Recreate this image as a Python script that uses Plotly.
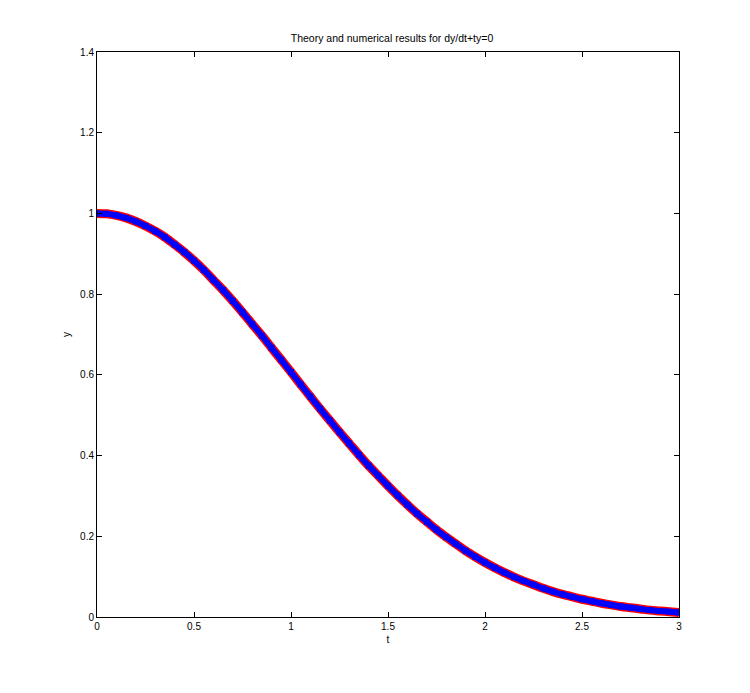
import plotly.graph_objects as go

t_values = [0.00, 0.05, 0.10, 0.15, 0.20, 0.25, 0.30, 0.35, 0.40, 0.45,
            0.50, 0.55, 0.60, 0.65, 0.70, 0.75, 0.80, 0.85, 0.90, 0.95,
            1.00, 1.05, 1.10, 1.15, 1.20, 1.25, 1.30, 1.35, 1.40, 1.45,
            1.50, 1.55, 1.60, 1.65, 1.70, 1.75, 1.80, 1.85, 1.90, 1.95,
            2.00, 2.05, 2.10, 2.15, 2.20, 2.25, 2.30, 2.35, 2.40, 2.45,
            2.50, 2.55, 2.60, 2.65, 2.70, 2.75, 2.80, 2.85, 2.90, 2.95, 3.00]

y_theory = [1.000, 0.999, 0.995, 0.989, 0.980, 0.969, 0.956, 0.941, 0.923, 0.904,
            0.883, 0.860, 0.835, 0.810, 0.783, 0.755, 0.726, 0.697, 0.667, 0.637,
            0.607, 0.576, 0.546, 0.516, 0.487, 0.458, 0.430, 0.402, 0.375, 0.350,
            0.325, 0.301, 0.278, 0.256, 0.236, 0.216, 0.198, 0.181, 0.164, 0.149,
            0.135, 0.122, 0.110, 0.099, 0.089, 0.080, 0.071, 0.063, 0.056, 0.050,
            0.044, 0.039, 0.034, 0.030, 0.026, 0.023, 0.020, 0.017, 0.015, 0.013, 0.011]

y_numeric = [1.000, 0.999, 0.995, 0.989, 0.980, 0.969, 0.956, 0.941, 0.923, 0.904,
             0.883, 0.860, 0.835, 0.810, 0.783, 0.755, 0.726, 0.697, 0.667, 0.637,
             0.607, 0.576, 0.546, 0.516, 0.487, 0.458, 0.430, 0.402, 0.375, 0.350,
             0.325, 0.301, 0.278, 0.256, 0.236, 0.216, 0.198, 0.181, 0.164, 0.149,
             0.135, 0.122, 0.110, 0.099, 0.089, 0.080, 0.071, 0.063, 0.056, 0.050,
             0.044, 0.039, 0.034, 0.030, 0.026, 0.023, 0.020, 0.017, 0.015, 0.013, 0.011]

x_ticks = [0, 0.5, 1, 1.5, 2, 2.5, 3]
x_ticklabels = ["0", "0.5", "1", "1.5", "2", "2.5", "3"]
y_ticks = [0, 0.2, 0.4, 0.6, 0.8, 1.0, 1.2, 1.4]
y_ticklabels = ["0", "0.2", "0.4", "0.6", "0.8", "1", "1.2", "1.4"]

fig = go.Figure()
fig.add_trace(go.Scatter(x=t_values, y=y_theory, mode="lines",
                         line=dict(color="red", width=9, shape="spline"),
                         showlegend=False))
fig.add_trace(go.Scatter(x=t_values, y=y_numeric, mode="lines+markers",
                         line=dict(color="blue", width=6, shape="spline"),
                         marker=dict(color="blue", size=6, symbol="square"),
                         showlegend=False))

font = dict(family="Liberation Sans, Arial, sans-serif", size=10, color="black")
axis_common = dict(showline=True, linecolor="black", linewidth=1, mirror="ticks",
                   ticks="inside", ticklen=5, tickcolor="black", showgrid=False,
                   zeroline=False, tickfont=font)

fig.update_layout(
    width=750, height=693,
    margin=dict(l=89, r=79, t=44, b=84),
    paper_bgcolor="white", plot_bgcolor="white",
    title=dict(text="Theory and numerical results for dy/dt+ty=0",
               x=0.512, xanchor="center", y=1 - 30 / 693, yanchor="middle",
               font=dict(family="Liberation Sans, Arial, sans-serif", size=10.5, color="black")),
    xaxis=dict(range=[0, 3], tickvals=x_ticks, ticktext=x_ticklabels,
               title=dict(text="t", font=font, standoff=4), **axis_common),
    yaxis=dict(range=[0, 1.4], tickvals=y_ticks, ticktext=y_ticklabels,
               title=dict(text="y", font=font, standoff=7), **axis_common),
)

fig.write_html("out.html")
